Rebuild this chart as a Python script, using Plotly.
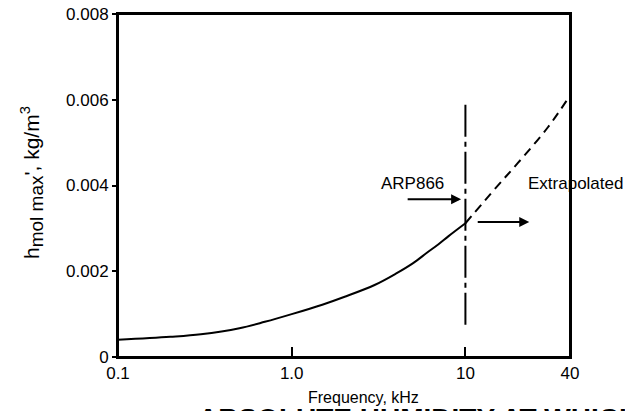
import math

import plotly.graph_objects as go

# measured curve (ARP866 range), frequency in kHz, h in kg/m^3
freq_arp = [0.1, 0.2, 0.3, 0.5, 0.7, 1.0, 1.5, 2.0, 3.0, 4.0, 5.0, 6.0, 7.0, 8.0, 10.0]
h_arp = [0.00040, 0.00047, 0.00053, 0.00067, 0.00082, 0.00100, 0.00122, 0.00140,
         0.00168, 0.00195, 0.00219, 0.00243, 0.00263, 0.00282, 0.00312]

# extrapolated part
freq_ext = [10.0, 15.0, 20.0, 30.0, 40.0]
h_ext = [0.00312, 0.00395, 0.00452, 0.00537, 0.00610]

# 10 kHz limit line
limit_freq = [10.0, 10.0]
limit_h = [0.00075, 0.0060]

x_ticks = [0.1, 1.0, 10, 40]
x_ticktext = ['0.1', '1.0', '10', '40']
y_ticks = [0, 0.002, 0.004, 0.006, 0.008]
y_ticktext = ['0', '0.002', '0.004', '0.006', '0.008']

font = 'Liberation Sans, Arial, sans-serif'

# page body adds a small offset, margins are shifted to compensate
W, H = 633, 411
L, R, T, B = 110, 71, 6, 62
plot_w = W - L - R
plot_h = H - T - B

fig = go.Figure()
fig.add_trace(go.Scatter(x=freq_arp, y=h_arp, mode='lines', line_shape='spline',
                         line=dict(color='black', width=2), showlegend=False))
fig.add_trace(go.Scatter(x=freq_ext, y=h_ext, mode='lines', line_shape='spline',
                         line=dict(color='black', width=2, dash='9px,6px'), showlegend=False))
fig.add_trace(go.Scatter(x=limit_freq, y=limit_h, mode='lines',
                         line=dict(color='black', width=2, dash='32px,5px,5px,5px'),
                         showlegend=False))

# frame round the plot area
fig.add_shape(type='rect', xref='paper', yref='paper', x0=0, y0=0, x1=1, y1=1,
              line=dict(color='black', width=2), layer='above')

# arrows and labels (log axis -> annotation x in log10 units)
fig.add_annotation(x=math.log10(9.45), y=0.00368, ax=-55, ay=0, text='', showarrow=True,
                   arrowhead=2, arrowsize=1, arrowwidth=2, arrowcolor='black')
fig.add_annotation(x=math.log10(23.3), y=0.00315, ax=-53, ay=0, text='', showarrow=True,
                   arrowhead=2, arrowsize=1, arrowwidth=2, arrowcolor='black')
fig.add_annotation(x=math.log10(4.95), y=0.00405, text='ARP866', showarrow=False,
                   font=dict(family=font, size=17, color='black'))
fig.add_annotation(x=1.35, y=0.00405, text='Extrapolated', showarrow=False, xanchor='left',
                   font=dict(family=font, size=17, color='black'))
fig.add_annotation(x=(361 - 116) / plot_w, y=-40 / plot_h, xref='paper', yref='paper',
                   text='Frequency, kHz', showarrow=False, yanchor='middle',
                   font=dict(family=font, size=16, color='black'))
fig.add_annotation(x=-86 / plot_w, y=(357 - 183) / plot_h, xref='paper', yref='paper',
                   text="h<sub><span style='font-size:19px'>mol max</span></sub>', "
                        "kg/m<sup>3</sup>",
                   textangle=-90, showarrow=False, xanchor='center', yanchor='middle',
                   font=dict(family=font, size=21, color='black'))
# caption of the page, mostly cut off by the bottom edge
fig.add_annotation(x=(194 - 116) / plot_w, y=-44 / plot_h, xref='paper', yref='paper',
                   text='<b>ABSOLUTE HUMIDITY AT WHICH</b>', showarrow=False,
                   xanchor='left', yanchor='top', font=dict(family=font, size=28, color='black'))

fig.update_xaxes(type='log', range=[-1, 1.60206], tickvals=x_ticks, ticktext=x_ticktext,
                 ticks='inside', ticklen=10, tickwidth=2, tickcolor='black',
                 showline=True, linewidth=2, linecolor='black', mirror=True,
                 showgrid=False, zeroline=False, automargin=False, ticklabeloverflow='allow',
                 tickfont=dict(family=font, size=17, color='black'))
fig.update_yaxes(range=[0, 0.008], tickvals=y_ticks, ticktext=y_ticktext,
                 ticks='outside', ticklen=4, tickwidth=2, tickcolor='black',
                 showline=True, linewidth=2, linecolor='black', mirror=True,
                 showgrid=False, zeroline=False, automargin=False, ticklabeloverflow='allow',
                 tickfont=dict(family=font, size=17, color='black'))

fig.update_layout(width=W, height=H, plot_bgcolor='white', paper_bgcolor='white',
                  margin=dict(l=L, r=R, t=T, b=B, autoexpand=False))

fig.write_html('out.html')
